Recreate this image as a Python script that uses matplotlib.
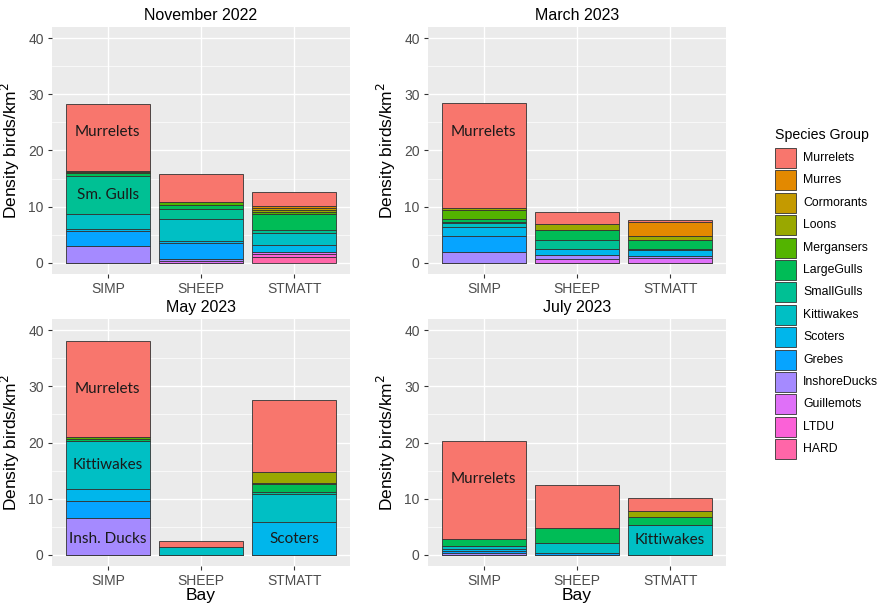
import matplotlib
matplotlib.use("Agg")
import matplotlib.pyplot as plt
from matplotlib.patches import Rectangle
import numpy as np

# ----- data ---------------------------------------------------------------
bays = ["SIMP", "SHEEP", "STMATT"]
species = ["Murrelets", "Murres", "Cormorants", "Loons", "Mergansers", "LargeGulls",
           "SmallGulls", "Kittiwakes", "Scoters", "Grebes", "InshoreDucks",
           "Guillemots", "LTDU", "HARD"]
# ggplot hue palette, 14 levels
colors = ["#F8766D", "#E38900", "#C49A00", "#99A800", "#53B400", "#00BC56", "#00C094",
          "#00BFC4", "#00B6EB", "#06A4FF", "#A58AFF", "#DF70F8", "#FB61D7", "#FF66A8"]

# rows follow species order, columns follow bays (SIMP, SHEEP, STMATT)
nov_2022 = [[11.8, 5.0, 2.45], [0, 0, 0.35], [0.25, 0, 0.35], [0.25, 0, 0.35],
            [0, 0.45, 0.45], [0.4, 0.7, 2.85], [6.9, 1.8, 0.45], [2.6, 4.0, 2.1],
            [0.35, 0.3, 1.3], [2.6, 2.85, 0], [3.07, 0.45, 0], [0, 0.25, 0.35],
            [0, 0, 0.5], [0, 0, 1.05]]
mar_2023 = [[18.7, 2.15, 0.35], [0, 0, 2.65], [0, 0, 0], [0.4, 1.0, 0.6],
            [1.65, 0, 0], [0.45, 1.8, 1.65], [0.3, 1.65, 0.25], [0.55, 0, 0],
            [1.65, 1.05, 1.05], [2.9, 0, 0], [1.9, 0.7, 0.35], [0, 0.7, 0.8],
            [0, 0, 0], [0, 0, 0]]
may_2023 = [[17.1, 1.1, 12.7], [0, 0, 0], [0, 0, 0], [0, 0, 2.0],
            [0.3, 0, 0.2], [0.5, 0, 1.4], [0, 0, 0.3], [8.55, 1.3, 5.1],
            [2.05, 0, 5.8], [3.0, 0, 0], [6.6, 0, 0], [0, 0, 0],
            [0, 0, 0], [0, 0, 0]]
jul_2023 = [[17.5, 7.6, 2.25], [0, 0, 0], [0, 0, 0], [0, 0, 1.0],
            [0, 0, 0], [1.3, 2.7, 1.45], [0, 0, 0], [0.45, 1.75, 5.35],
            [0.35, 0, 0], [0.35, 0.35, 0], [0.35, 0, 0], [0, 0, 0],
            [0, 0, 0], [0, 0, 0]]

titles = ["November 2022", "March 2023", "May 2023", "July 2023"]
months = [nov_2022, mar_2023, may_2023, jul_2023]

# (text, bay index, y) labels written inside the bars
notes = [
    [("Murrelets", 0, 23.3), ("Sm. Gulls", 0, 12.1)],
    [("Murrelets", 0, 23.3)],
    [("Murrelets", 0, 29.6), ("Kittiwakes", 0, 16.0), ("Insh. Ducks", 0, 2.8), ("Scoters", 2, 2.8)],
    [("Murrelets", 0, 13.5), ("Kittiwakes", 2, 2.7)],
]

# ----- figure -------------------------------------------------------------
W, H = 878, 603
fig = plt.figure(figsize=(W / 100, H / 100), dpi=100)
plt.rcParams["font.family"] = ["Liberation Sans", "DejaVu Sans"]

def px(x0, y0, x1, y1):
    return [x0 / W, 1 - y1 / H, (x1 - x0) / W, (y1 - y0) / H]

boxes = [px(52, 27, 350, 274), px(428, 27, 726, 274),
         px(52, 319, 350, 566), px(428, 319, 726, 566)]

x = np.arange(len(bays))
for i, (vals, title) in enumerate(zip(months, titles)):
    ax = fig.add_axes(boxes[i])
    ax.set_facecolor("#EBEBEB")
    vals = np.array(vals)
    bottom = np.zeros(len(bays))
    # bottom of stack is the last level (ggplot order)
    for k in range(len(species) - 1, -1, -1):
        ax.bar(x, vals[k], width=0.9, bottom=bottom, color=colors[k],
               edgecolor="#333333", linewidth=0.6, zorder=3)
        bottom += vals[k]
    ax.set_xlim(-0.6, 2.6)
    ax.set_ylim(-2, 42)
    ax.set_yticks([0, 10, 20, 30, 40])
    ax.set_yticks([5, 15, 25, 35], minor=True)
    ax.set_xticks(x)
    ax.set_xticklabels(bays)
    ax.grid(which="major", color="white", linewidth=1.0, zorder=0)
    ax.grid(which="minor", axis="y", color="white", linewidth=0.5, zorder=0)
    ax.tick_params(which="major", length=3, color="#333333", labelcolor="#4D4D4D",
                   labelsize=10, pad=3)
    ax.tick_params(which="minor", length=0)
    for s in ax.spines.values():
        s.set_visible(False)
    ax.set_title(title, fontsize=11.5, pad=5)
    ax.set_ylabel("Density birds/km$^2$", fontsize=12.5, labelpad=4)
    if i >= 2:
        ax.set_xlabel("Bay", fontsize=12.5, labelpad=0)
    for text, b, y in notes[i]:
        ax.text(b, y, text, ha="center", va="center", fontsize=11,
                family=["Lato", "DejaVu Sans"], color="#1a1a1a", zorder=4)

# ----- legend -------------------------------------------------------------
fig.text(775 / W, 1 - 135 / H, "Species Group", fontsize=10.2, va="center", ha="left")
key_top = 148
step = 22.4
for k, (name, c) in enumerate(zip(species, colors)):
    y0 = key_top + k * step
    fig.add_artist(Rectangle((775 / W, 1 - (y0 + 20) / H), 21 / W, 20 / H,
                             transform=fig.transFigure, facecolor=c,
                             edgecolor="#333333", linewidth=0.6))
    fig.text(803 / W, 1 - (y0 + 10) / H, name, fontsize=8.8, va="center", ha="left")

fig.savefig("out.png", dpi=100)
